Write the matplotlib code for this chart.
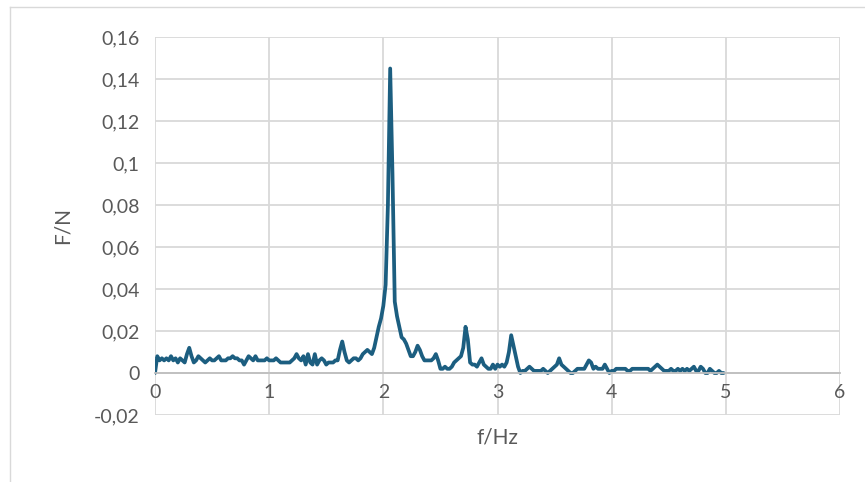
import numpy as np
import matplotlib
matplotlib.use('Agg')
import matplotlib.pyplot as plt
from matplotlib.ticker import FuncFormatter, MultipleLocator
from matplotlib.lines import Line2D

# Espectro de fuerza (f en Hz, F en N)
freq = [round(0.02 * i, 2) for i in range(250)]
force = [
    0.000, 0.008, 0.006, 0.007, 0.006, 0.007, 0.006, 0.008, 0.006, 0.007,
    0.005, 0.007, 0.006, 0.005, 0.009, 0.012, 0.008, 0.005, 0.006, 0.008,
    0.007, 0.006, 0.005, 0.006, 0.007, 0.006, 0.006, 0.007, 0.008, 0.006,
    0.006, 0.006, 0.007, 0.007, 0.008, 0.007, 0.007, 0.006, 0.006, 0.004,
    0.006, 0.008, 0.007, 0.006, 0.008, 0.006, 0.006, 0.006, 0.006, 0.007,
    0.006, 0.006, 0.006, 0.007, 0.006, 0.005, 0.005, 0.005, 0.005, 0.005,
    0.006, 0.007, 0.009, 0.007, 0.006, 0.008, 0.004, 0.009, 0.005, 0.004,
    0.009, 0.004, 0.006, 0.007, 0.006, 0.004, 0.005, 0.005, 0.005, 0.006,
    0.006, 0.011, 0.015, 0.010, 0.006, 0.005, 0.006, 0.007, 0.007, 0.006,
    0.007, 0.009, 0.010, 0.011, 0.010, 0.009, 0.012, 0.017, 0.022, 0.026,
    0.032, 0.042, 0.080, 0.145, 0.095, 0.034, 0.027, 0.022, 0.017, 0.016,
    0.014, 0.011, 0.008, 0.008, 0.010, 0.013, 0.011, 0.008, 0.006, 0.006,
    0.006, 0.006, 0.007, 0.009, 0.006, 0.002, 0.002, 0.003, 0.002, 0.002,
    0.003, 0.005, 0.006, 0.007, 0.008, 0.012, 0.022, 0.016, 0.005, 0.004,
    0.004, 0.003, 0.005, 0.007, 0.004, 0.003, 0.002, 0.002, 0.004, 0.002,
    0.004, 0.003, 0.004, 0.003, 0.005, 0.010, 0.018, 0.013, 0.008, 0.003,
    0.000, 0.001, 0.001, 0.002, 0.003, 0.002, 0.001, 0.001, 0.001, 0.001,
    0.002, 0.001, 0.000, 0.001, 0.002, 0.003, 0.004, 0.007, 0.004, 0.003,
    0.002, 0.001, 0.000, 0.000, 0.001, 0.002, 0.002, 0.002, 0.002, 0.004,
    0.006, 0.005, 0.002, 0.003, 0.002, 0.002, 0.002, 0.004, 0.002, 0.000,
    0.001, 0.001, 0.002, 0.002, 0.002, 0.002, 0.002, 0.001, 0.001, 0.002,
    0.002, 0.002, 0.002, 0.002, 0.002, 0.002, 0.002, 0.001, 0.002, 0.003,
    0.004, 0.003, 0.002, 0.001, 0.001, 0.001, 0.002, 0.001, 0.001, 0.002,
    0.001, 0.002, 0.001, 0.002, 0.001, 0.002, 0.003, 0.001, 0.001, 0.003,
    0.002, 0.000, 0.000, 0.002, 0.001, 0.000, 0.000, 0.001, 0.000, 0.000,
]

color_linea = '#1C5E80'
color_texto = '#595959'
color_grid = '#D9D9D9'

plt.rcParams['font.family'] = ['Lato', 'DejaVu Sans']

fig = plt.figure(figsize=(8.65, 4.82), dpi=100)
ax = fig.add_axes([155 / 865, 1 - 415 / 482, 685 / 865, 378 / 482])

ax.plot(freq, force, color=color_linea, linewidth=2.7, solid_joinstyle='round',
        solid_capstyle='round')

ax.set_xlim(0, 6)
ax.set_ylim(-0.02, 0.16)
ax.xaxis.set_major_locator(MultipleLocator(1))
ax.yaxis.set_major_locator(MultipleLocator(0.02))

fmt = FuncFormatter(lambda v, p: ('%g' % round(v, 4)).replace('.', ','))
ax.xaxis.set_major_formatter(fmt)
ax.yaxis.set_major_formatter(fmt)

ax.grid(True, color=color_grid, linewidth=1.3)
ax.set_axisbelow(True)
for s in ['top', 'right', 'left']:
    ax.spines[s].set_visible(False)
ax.spines['bottom'].set_position(('data', 0))
ax.spines['bottom'].set_color('#BFBFBF')
ax.spines['bottom'].set_linewidth(1.3)

ax.tick_params(length=0, labelsize=14, labelcolor=color_texto)
ax.tick_params(axis='x', pad=8)
ax.tick_params(axis='y', pad=11)

fig.text(63 / 865, 1 - 225 / 482, 'F/N', rotation=90, fontsize=15,
         color=color_texto, ha='center', va='center')
fig.text(497 / 865, 1 - 437 / 482, 'f/Hz', fontsize=15,
         color=color_texto, ha='center', va='center')

# marco del area del grafico
fig.add_artist(Line2D([10 / 865, 10 / 865], [0, 1 - 7 / 482],
                      transform=fig.transFigure, color='#D9D9D9', linewidth=1))
fig.add_artist(Line2D([10 / 865, 1], [1 - 7 / 482, 1 - 7 / 482],
                      transform=fig.transFigure, color='#D9D9D9', linewidth=1))

fig.savefig('out.png', dpi=100)
